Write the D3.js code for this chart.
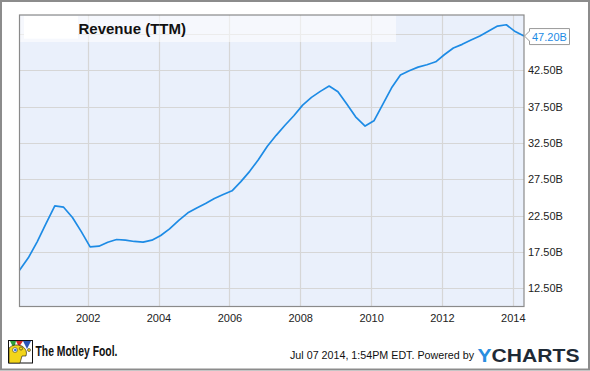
<!DOCTYPE html>
<html><head><meta charset="utf-8">
<script src="https://cdn.jsdelivr.net/npm/d3@7"></script>
<style>body{margin:0;background:#fff}svg{display:block}text{font-family:"Liberation Sans",Arial,sans-serif}</style>
</head><body>
<script>
const seriesName = "Revenue (TTM)";
const dates = ["2000-01-29","2000-04-29","2000-07-29","2000-10-28","2001-01-27","2001-04-28","2001-07-28","2001-10-27",
"2002-01-26","2002-04-27","2002-07-27","2002-10-26","2003-01-25","2003-04-26","2003-07-26","2003-10-25",
"2004-01-24","2004-04-24","2004-07-31","2004-10-30","2005-01-29","2005-04-30","2005-07-30","2005-10-29",
"2006-01-28","2006-04-29","2006-07-29","2006-10-28","2007-01-27","2007-04-28","2007-07-28","2007-10-27",
"2008-01-26","2008-04-26","2008-07-26","2008-10-25","2009-01-24","2009-04-25","2009-07-25","2009-10-31",
"2010-01-30","2010-05-01","2010-07-31","2010-10-30","2011-01-29","2011-04-30","2011-07-30","2011-10-29",
"2012-01-28","2012-04-28","2012-07-28","2012-10-27","2013-01-26","2013-04-27","2013-07-27","2013-10-26",
"2014-01-25","2014-04-26"];
const revenue = [15.0,16.7,18.9,21.4,23.85,23.67,22.25,20.3,18.2,18.3,
18.85,19.22,19.13,18.95,18.85,19.13,19.77,20.68,21.88,22.89,
23.57,24.18,24.87,25.42,25.92,27.18,28.6,30.23,32.06,33.56,
34.94,36.25,37.72,38.78,39.61,40.34,39.55,37.86,36.11,34.83,
35.56,37.82,40.1,41.85,42.44,42.95,43.27,43.68,44.68,45.57,
46.08,46.67,47.22,47.91,48.6,48.78,47.84,47.22];
const yGrid = [12.5,17.5,22.5,27.5,32.5,37.5,42.5,47.5];
const yLabels = [12.5,17.5,22.5,27.5,32.5,37.5,42.5];
const xTickYears = [2002,2004,2006,2008,2010,2012,2014];
const lastLabel = "47.20B";

const W = 590, H = 371;
const plot = {l:19.5, t:15, r:524, b:306.5};
const parse = d3.timeParse("%Y-%m-%d");
const data = dates.map((d,i)=>({date:parse(d), v:revenue[i]}));

const svg = d3.select("body").append("svg").attr("width",W).attr("height",H);

const x = d3.scaleTime().domain(d3.extent(data,d=>d.date)).range([plot.l, plot.r]);
const y = d3.scaleLinear().domain([10, 50.12]).range([plot.b, plot.t]);

// outer border
svg.append("rect").attr("x",1).attr("y",1).attr("width",588).attr("height",368.5)
  .attr("fill","#fff").attr("stroke","#8c8c8c").attr("stroke-width",2);

// plot background
svg.append("rect").attr("x",plot.l).attr("y",plot.t).attr("width",plot.r-plot.l).attr("height",plot.b-plot.t)
  .attr("fill","#eaf0fb");

// gridlines
const g = svg.append("g");
g.selectAll(".hg").data(yGrid).join("line")
  .attr("x1",plot.l).attr("x2",plot.r)
  .attr("y1",d=>Math.round(y(d))+0.5).attr("y2",d=>Math.round(y(d))+0.5)
  .attr("stroke","#d6d6d6").attr("stroke-width",1.2);
g.selectAll(".vg").data(xTickYears).join("line")
  .attr("y1",plot.t).attr("y2",plot.b)
  .attr("x1",d=>Math.round(x(new Date(d,0,1)))+0.5).attr("x2",d=>Math.round(x(new Date(d,0,1)))+0.5)
  .attr("stroke","#d6d6d6").attr("stroke-width",1.2);

// legend/title box
svg.append("rect").attr("x",plot.l+0.5).attr("y",plot.t+0.5).attr("width",376).attr("height",26.5)
  .attr("fill","#ffffff").attr("fill-opacity",0.55);
svg.append("rect").attr("x",24).attr("y",16).attr("width",54).attr("height",22.7).attr("fill","#ffffff");
svg.append("text").attr("x",78.5).attr("y",34).attr("font-size",15).attr("font-weight","bold")
  .attr("fill","#111").text(seriesName);

// line
svg.append("path").datum(data)
  .attr("d", d3.line().x(d=>x(d.date)).y(d=>y(d.v)))
  .attr("fill","none").attr("stroke","#1d8be5").attr("stroke-width",1.7).attr("stroke-linejoin","round");

// plot frame
svg.append("rect").attr("x",plot.l).attr("y",plot.t).attr("width",plot.r-plot.l).attr("height",plot.b-plot.t)
  .attr("fill","none").attr("stroke","#8a8a8a").attr("stroke-width",1.2);

// y axis labels (right)
svg.append("g").selectAll("text").data(yLabels).join("text")
  .attr("x",528).attr("y",d=>y(d)).attr("dy","0.36em").attr("font-size",11).attr("fill","#222")
  .text(d=>d3.format(".2f")(d)+"B");

// x axis labels
svg.append("g").selectAll("text").data(xTickYears).join("text")
  .attr("x",d=>x(new Date(d,0,1))+0.5).attr("y",321.5).attr("text-anchor","middle")
  .attr("font-size",11).attr("fill","#222").text(d=>d);

// last value callout
const ly = y(revenue[revenue.length-1]);
const lx = x(data[data.length-1].date);
svg.append("path")
  .attr("d",`M${lx+0.5},${ly} L${lx+5.5},${ly-5} L${lx+5.5},${ly-7.5} L${lx+45.5},${ly-7.5} L${lx+45.5},${ly+8.5} L${lx+5.5},${ly+8.5} L${lx+5.5},${ly+5} Z`)
  .attr("fill","#fff").attr("stroke","#999").attr("stroke-width",1);
svg.append("text").attr("x",lx+8).attr("y",ly+4.5).attr("font-size",11).attr("fill","#1d8be5").text(lastLabel);

// footer: Motley Fool logo
const logo = svg.append("g");
logo.append("rect").attr("x",8.5).attr("y",340.5).attr("width",24).attr("height",22.5).attr("fill","#fff").attr("stroke","#111").attr("stroke-width",1);
logo.append("path").attr("d","M10,341 L16,341 L14,349 Z").attr("fill","#2e9e3a");
logo.append("path").attr("d","M16,341 L23,341 L19,347 Z").attr("fill","#d42a2a");
logo.append("path").attr("d","M23,341 L31,341 L27,349 Z").attr("fill","#2c55b8");
logo.append("path").attr("d","M9,363 L9,348 Q14,343 22,346 Q28,350 26,356 L22,356 L20,363 Z").attr("fill","#f2d51a").attr("stroke","#111").attr("stroke-width",0.6);
logo.append("circle").attr("cx",15).attr("cy",350).attr("r",2.4).attr("fill","#fff").attr("stroke","#111").attr("stroke-width",0.5);
logo.append("circle").attr("cx",15.3).attr("cy",350).attr("r",1.3).attr("fill","#2a6fd0");
logo.append("circle").attr("cx",21).attr("cy",348.5).attr("r",1.6).attr("fill","#f2d51a").attr("stroke","#111").attr("stroke-width",0.5);
logo.append("circle").attr("cx",29).attr("cy",350).attr("r",1.5).attr("fill","#f2d51a").attr("stroke","#111").attr("stroke-width",0.5);
svg.append("text").attr("x",35.5).attr("y",356).attr("font-size",14).attr("font-weight","bold")
  .attr("fill","#111").attr("textLength",82).attr("lengthAdjust","spacingAndGlyphs").text("The Motley Fool.");

// footer text
svg.append("text").attr("x",290).attr("y",358.5).attr("font-size",11).attr("fill","#111")
  .attr("textLength",184).attr("lengthAdjust","spacingAndGlyphs")
  .text("Jul 07 2014, 1:54PM EDT.  Powered by");
const yc = svg.append("text").attr("x",477.5).attr("y",361.7).attr("font-size",18.5).attr("font-weight","bold")
  .attr("textLength",102).attr("lengthAdjust","spacingAndGlyphs");
yc.append("tspan").attr("fill","#2a8ee0").text("Y");
yc.append("tspan").attr("fill","#1e2a36").text("CHARTS");
</script>
</body></html>
